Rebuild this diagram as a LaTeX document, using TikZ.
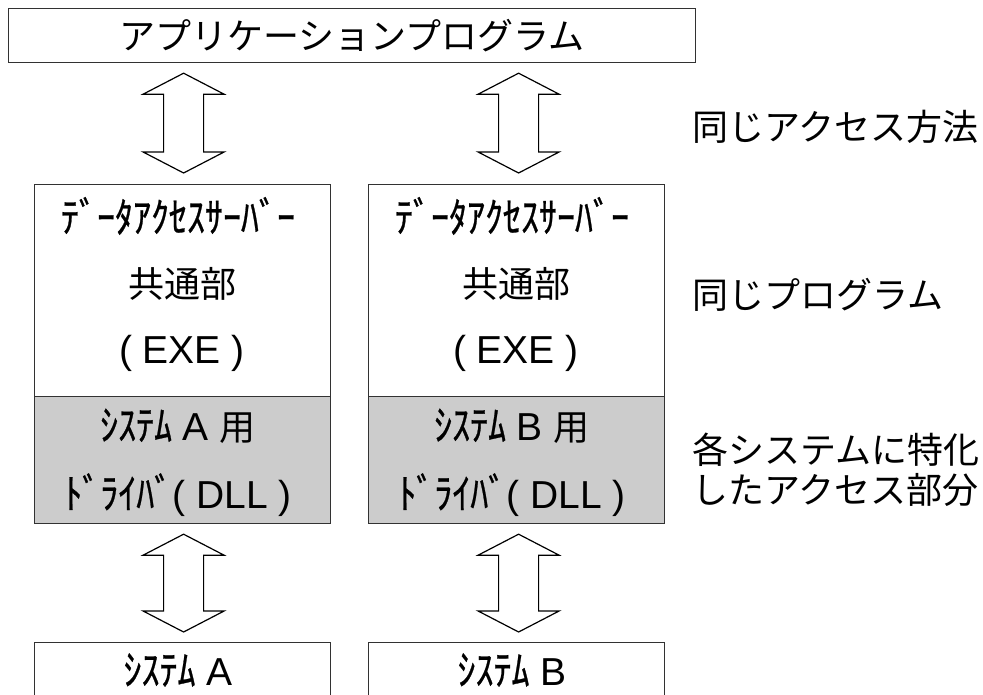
\documentclass[tikz,border=0pt]{standalone}
\usepackage{fontspec}
\setmainfont{Noto Sans CJK JP}
\newfontfamily\hwfont[FakeBold=0.7]{Noto Sans CJK JP}
\newfontfamily\latfont{Liberation Sans}
\usetikzlibrary{calc}
\definecolor{drvgray}{RGB}{204,204,204}
\definecolor{edgegray}{RGB}{50,50,50}
\newcommand\hw[1]{\scalebox{1}[1.15]{\hwfont #1}}
\newcommand\lt[1]{{\latfont\fontsize{39}{44}\selectfont #1}}
\newcommand\fatarrow[2]{%
  \path[arrowline] let \p1=(#1), \p2=(#2) in
    (\x1,\y1) -- (\x1+40.5pt,\y1-21pt) -- (\x1+20pt,\y1-21pt) --
    (\x1+20pt,\y2+21pt) -- (\x1+40.5pt,\y2+21pt) -- (\x1,\y2) --
    (\x1-40.5pt,\y2+21pt) -- (\x1-20pt,\y2+21pt) --
    (\x1-20pt,\y1-21pt) -- (\x1-40.5pt,\y1-21pt) -- cycle;}
\begin{document}
\begin{tikzpicture}[x=1pt,y=-1pt,
  font=\fontsize{36}{40}\selectfont,
  box/.style={draw=edgegray, line width=1.2pt, inner sep=0pt, anchor=north west},
  lbl/.style={inner sep=0pt, anchor=center},
  side/.style={inner sep=0pt, anchor=west},
  arrowline/.style={draw=black, fill=white, line width=1.2pt, line join=miter}]
\useasboundingbox[fill=white] (0,0) rectangle (983,695);
% top box
\node[box, minimum width=687pt, minimum height=54pt] (app) at (8,8) {};
\node[lbl] (appT) at (app.center) {アプリケーションプログラム};
% data access server boxes
\node[box, minimum width=296pt, minimum height=212pt] (dsA) at (34,184) {};
\node[box, fill=drvgray, minimum width=296pt, minimum height=127pt] (drvA) at (34,396) {};
\node[box, minimum width=296pt, minimum height=212pt] (dsB) at (368,184) {};
\node[box, fill=drvgray, minimum width=296pt, minimum height=127pt] (drvB) at (368,396) {};
% system boxes
\node[box, minimum width=296pt, minimum height=90pt] (sysA) at (34,642) {};
\node[box, minimum width=296pt, minimum height=90pt] (sysB) at (368,642) {};
% texts in boxes
\foreach \s/\c in {A/178, B/512}{
  \node[lbl] (ds1\s) at (\c,216) {\hw{ﾃﾞｰﾀｱｸｾｽｻｰﾊﾞｰ}};
  \node[lbl] (ds2\s) at (\c+4,284) {共通部};
  \node[lbl] (ds3\s) at (\c+4,353) {\lt{( EXE )}};
  \node[lbl] (dr1\s) at (\c,426) {\hw{ｼｽﾃﾑ}\lt{ \s\ }用};
  \node[lbl] (dr2\s) at (\c,495) {\hw{ﾄﾞﾗｲﾊﾞ}\lt{( DLL )}};
  \node[lbl] (sy\s) at (\c,670) {\hw{ｼｽﾃﾑ}\lt{ \s}};
}
% side labels
\node[side] (l1) at (692,127) {同じアクセス方法};
\node[side] (l2) at (692,295) {同じプログラム};
\node[side] (l3) at (692,450) {各システムに特化};
\node[side] (l4) at (692,490) {したアクセス部分};
% arrows
\coordinate (a1t) at ($(app.south -| dsA.north)+(1,10)$);
\coordinate (a1b) at ($(dsA.north)+(1,-11)$);
\coordinate (a2t) at ($(app.south -| dsB.north)+(2,10)$);
\coordinate (a2b) at ($(dsB.north)+(2,-11)$);
\coordinate (a3t) at ($(drvA.south)+(1,10)$);
\coordinate (a3b) at ($(sysA.north)+(1,-10)$);
\coordinate (a4t) at ($(drvB.south)+(2,10)$);
\coordinate (a4b) at ($(sysB.north)+(2,-10)$);
\fatarrow{a1t}{a1b}
\fatarrow{a2t}{a2b}
\fatarrow{a3t}{a3b}
\fatarrow{a4t}{a4b}
\end{tikzpicture}
\end{document}
